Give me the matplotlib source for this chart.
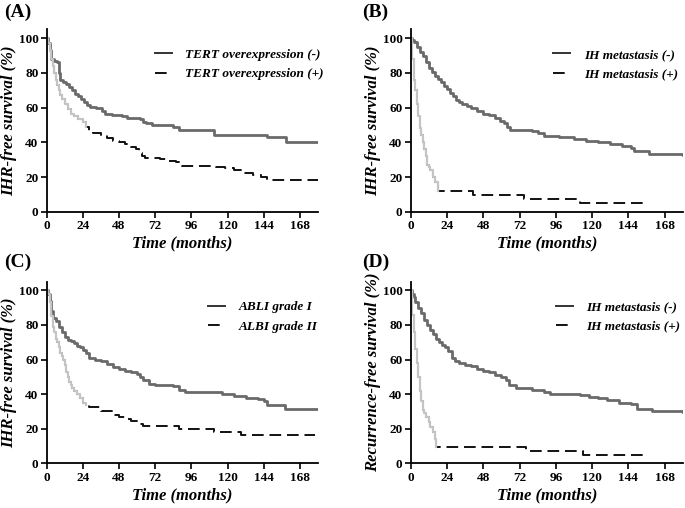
import numpy as np
import matplotlib
matplotlib.use("Agg")
import matplotlib.pyplot as plt

plt.rcParams['font.family'] = ['Liberation Serif', 'DejaVu Serif']
plt.rcParams['font.weight'] = 'bold'

# ---- data (time in months, survival in %) ----
# (A) TERT overexpression
A_neg_t = [0, 1, 2, 3, 5, 7, 8, 9, 11, 13, 15, 17, 19, 21, 23, 25, 27, 29, 33, 37, 39, 43,
           50, 53, 62, 64, 66, 70, 84, 88, 111, 146, 159, 180]
A_neg_s = [100, 97, 93, 88, 86.5, 86, 80, 76, 75, 73.5, 72, 70, 68, 66.5, 65, 63.5, 61.5,
           60.5, 60, 58, 56.5, 55.5, 55, 54, 53.5, 52, 51, 49.8, 49, 47.3, 44.5, 43, 40, 40]
A_pos_t = [0, 1, 2, 3, 4, 5, 6, 7, 8, 9, 10, 12, 14, 16, 18, 21, 24, 26, 28, 31, 36, 40, 44,
           48, 52, 56, 59, 61, 63, 65, 75, 80, 86, 90, 112, 118, 124, 130, 137, 142, 146, 180]
A_pos_s = [100, 97, 93, 88, 84, 80, 76, 73, 70, 67, 65, 62, 59, 56.5, 55, 53.5, 52, 49, 46.5,
           45.5, 44, 42.5, 41, 40, 39, 37.5, 36, 34, 32, 31, 30.3, 29.5, 28.5, 26.7, 26, 25,
           24, 22.5, 21, 20, 18.3, 18]

# (B) IH metastasis, IHR-free survival
B_neg_t = [0, 1, 2, 4, 6, 8, 10, 12, 14, 16, 18, 20, 22, 24, 26, 28, 30, 32, 34, 37, 40, 44,
           48, 52, 56, 59, 62, 64, 66, 80, 84, 88, 98, 108, 116, 124, 132, 140, 146, 148, 158, 180]
B_neg_s = [100, 99, 97.5, 95, 92, 89.5, 86, 83, 80.5, 78, 76.5, 74.5, 72.5, 70.5, 68.5, 66.5,
           64.5, 63, 62, 61, 59.5, 58, 56.5, 55.5, 54, 52.5, 51, 49, 47, 46.5, 45.5, 43.5, 43,
           42, 41, 40, 39, 38, 37, 35, 33.5, 33]
B_pos_t = [0, 1, 2, 3, 4, 5, 6, 7, 8, 9, 10, 11, 12, 13, 15, 16, 18, 41, 75, 112, 156]
B_pos_s = [100, 88, 76, 70, 62, 55, 48, 44, 40, 36, 32, 27, 26, 24, 20, 17, 12, 10, 7.3, 5.2, 5.2]

# (C) ALBI grade
C_neg_t = [0, 1, 2, 3, 4, 6, 8, 10, 12, 14, 16, 18, 20, 22, 24, 26, 28, 32, 36, 40, 44, 48,
           52, 56, 60, 62, 64, 68, 72, 84, 88, 92, 108, 116, 124, 132, 140, 144, 146, 158, 180]
C_neg_s = [100, 98, 94, 88, 84, 82, 79, 76, 73, 71.5, 70.5, 69.5, 68, 67, 65.5, 63.5, 61, 60,
           59, 57.5, 55.5, 54.5, 53.5, 52.5, 51.5, 50, 48, 46, 45.5, 44.5, 42.5, 41.5, 41, 40,
           39, 38, 37, 36, 33.5, 31.5, 31.5]
C_pos_t = [0, 1, 2, 3, 4, 5, 6, 7, 8, 9, 10, 11, 12, 13, 14, 15, 16, 17, 18, 20, 22, 24, 26,
           28, 36, 44, 48, 52, 56, 62, 64, 88, 111, 129, 178]
C_pos_s = [100, 98, 93, 85, 79, 76, 72, 70, 67, 64, 62, 60, 57, 53, 50, 47, 45, 43.5, 42, 40,
           37.5, 35, 33.5, 32.5, 30, 28, 27, 25.5, 24.5, 23, 21.7, 20, 18, 16.2, 16.2]

# (D) IH metastasis, recurrence-free survival
D_neg_t = [0, 1, 2, 3, 5, 7, 9, 11, 13, 15, 17, 19, 21, 23, 25, 27, 29, 32, 36, 40, 44, 48,
           52, 56, 60, 63, 65, 70, 80, 88, 92, 112, 118, 124, 130, 138, 146, 150, 160, 180]
D_neg_s = [100, 98, 96, 93, 90, 87, 83, 80, 77, 74.5, 72, 70, 68.5, 67, 65, 61, 59, 58, 57,
           56, 54.5, 53.5, 52.5, 51, 50, 48, 45, 43.5, 42.5, 41.5, 40, 39.5, 38.5, 37.5, 36.5,
           35, 34, 31.5, 30, 29.5]
D_pos_t = [0, 1, 2, 3, 4, 5, 6, 7, 8, 9, 10, 12, 13, 15, 16, 17, 76, 114, 157]
D_pos_s = [100, 86, 76, 66, 58, 50, 42, 36, 31, 29, 27, 24, 21, 18, 14, 9.7, 7.3, 5, 5]

xticks = [0, 24, 48, 72, 96, 120, 144, 168]
yticks = [0, 20, 40, 60, 80, 100]


def km_panel(ax, t1, s1, t2, s2, grey_end, labels, ylabel, leg_x):
    ax.step(t1, s1, where='post', color='#6a6a6a', lw=2.0, label=labels[0])
    ax.step(t2, s2, where='post', color='#111111', lw=1.4, ls=(0, (6, 3)), label=labels[1])
    n = int(np.searchsorted(t2, grey_end, side='right'))
    ax.step(t2[:n], s2[:n], where='post', color='#c4c4c4', lw=1.6)
    ax.set_xlim(0, 180)
    ax.set_ylim(0, 105)
    ax.set_xticks(xticks)
    ax.set_yticks(yticks)
    for sp in ['top', 'right']:
        ax.spines[sp].set_visible(False)
    for sp in ['left', 'bottom']:
        ax.spines[sp].set_linewidth(1.3)
    ax.tick_params(direction='out', length=4, width=1.2, labelsize=9.5, pad=2)
    ax.set_xlabel('Time (months)', fontsize=12, style='italic', weight='bold')
    ax.set_ylabel(ylabel, fontsize=12, style='italic', weight='bold')
    ax.xaxis.set_label_coords(0.5, -0.13)
    ax.yaxis.set_label_coords(-0.11, 0.5)
    leg = ax.legend(loc='upper left', bbox_to_anchor=(leg_x, 0.93), frameon=False,
                    prop={'style': 'italic', 'weight': 'bold', 'size': 9.5},
                    handlelength=1.3, handletextpad=1.0, labelspacing=0.55, borderpad=0)
    leg.legend_handles[0].set_color('#333333')
    leg.legend_handles[0].set_linewidth(1.4)


fig = plt.figure(figsize=(6.85, 5.08), dpi=100)
axA = fig.add_axes([0.0682, 0.5827, 0.396, 0.3596])
axB = fig.add_axes([0.5996, 0.5827, 0.397, 0.3596])
axC = fig.add_axes([0.0682, 0.0880, 0.396, 0.3575])
axD = fig.add_axes([0.5996, 0.0880, 0.397, 0.3575])

km_panel(axA, A_neg_t, A_neg_s, A_pos_t, A_pos_s, 26,
         ['TERT overexpression (-)', 'TERT overexpression (+)'], 'IHR-free survival (%)', 0.375)
km_panel(axB, B_neg_t, B_neg_s, B_pos_t, B_pos_s, 18,
         ['IH metastasis (-)', 'IH metastasis (+)'], 'IHR-free survival (%)', 0.50)
km_panel(axC, C_neg_t, C_neg_s, C_pos_t, C_pos_s, 27,
         ['ABLI grade I', 'ALBI grade II'], 'IHR-free survival (%)', 0.57)
km_panel(axD, D_neg_t, D_neg_s, D_pos_t, D_pos_s, 18,
         ['IH metastasis (-)', 'IH metastasis (+)'], 'Recurrence-free survival (%)', 0.51)

for x, y, s in [(0.006, 0.992, '(A)'), (0.528, 0.992, '(B)'),
                (0.006, 0.500, '(C)'), (0.528, 0.500, '(D)')]:
    fig.text(x, y, s, fontsize=14, weight='bold', va='top', ha='left')

fig.savefig('out.png', dpi=100)
